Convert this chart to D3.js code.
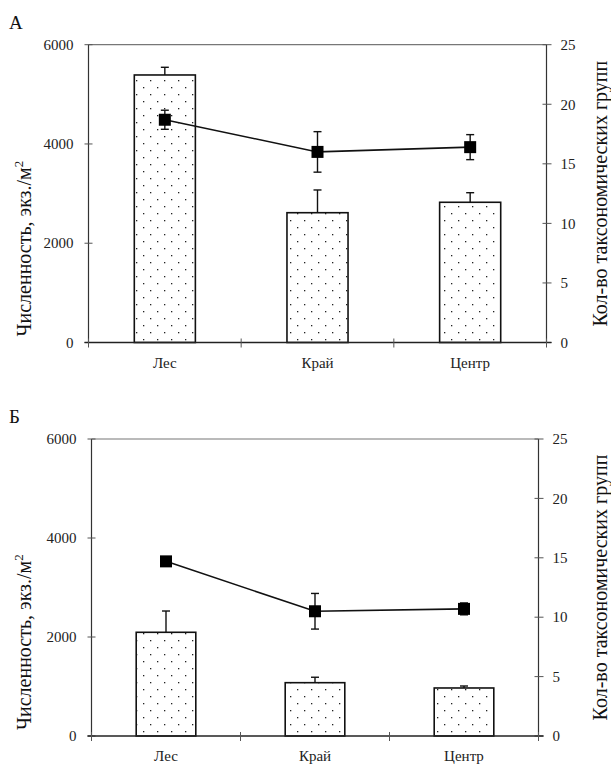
<!DOCTYPE html>
<html lang="ru">
<head>
<meta charset="UTF-8">
<title>Численность и таксономические группы</title>
<script src="https://d3js.org/d3.v7.min.js"></script>
<style>
    body { margin: 0; background: #fff; }
    svg { display: block; }
    text { font-family: "Times New Roman", "Liberation Serif", "DejaVu Serif", serif; }
    .tick-label { font-size: 15px; fill: #222; }
    .axis-title { font-size: 20px; fill: #111; }
    .panel-letter { font-size: 19px; fill: #111; }
</style>
</head>
<body>
<svg width="611" height="769"></svg>
<script>
// categories and values
const categories = ["Лес", "Край", "Центр"];
const leftTicks = [0, 2000, 4000, 6000];
const rightTicks = [0, 5, 10, 15, 20, 25];

// panel А
const densityA = [5390, 2615, 2825];
const densityErrA = [155, 458, 193];
const taxaA = [18.7, 16.0, 16.4];
const taxaErrA = [0.8, 1.7, 1.05];

// panel Б
const densityB = [2095, 1077, 970];
const densityErrB = [430, 110, 40];
const taxaB = [14.7, 10.5, 10.7];
const taxaErrB = [0.2, 1.5, 0.5];

const serif = "'Liberation Serif', 'Times New Roman', 'DejaVu Serif', serif";
const svg = d3.select("svg").attr("font-family", serif);

// dotted fill for the bars
const pat = svg.append("defs").append("pattern")
    .attr("id", "dots")
    .attr("patternUnits", "userSpaceOnUse")
    .attr("width", 14).attr("height", 14);
pat.append("rect").attr("width", 14).attr("height", 14).attr("fill", "#fff");
pat.append("rect").attr("x", 3).attr("y", 3).attr("width", 1.3).attr("height", 1.3).attr("fill", "#222");
pat.append("rect").attr("x", 10).attr("y", 10).attr("width", 1.3).attr("height", 1.3).attr("fill", "#222");

function drawPanel(p) {
    const g = svg.append("g").attr("font-family", serif);

    const x = d3.scaleBand().domain(categories).range([p.left, p.right]);
    const yL = d3.scaleLinear().domain([0, 6000]).range([p.bottom, p.top]);
    const yR = d3.scaleLinear().domain([0, 25]).range([p.bottom, p.top]);
    const barW = x.bandwidth() * 0.4;

    // frame: top line a bit lighter
    g.append("line")
        .attr("x1", p.left).attr("x2", p.right)
        .attr("y1", p.top).attr("y2", p.top)
        .attr("stroke", "#777").attr("stroke-width", 1.2);

    // left axis
    g.append("line")
        .attr("x1", p.left).attr("x2", p.left)
        .attr("y1", p.top).attr("y2", p.bottom)
        .attr("stroke", "#333").attr("stroke-width", 1.2);
    g.selectAll(".lt").data(leftTicks).enter().append("line")
        .attr("x1", p.left - 4).attr("x2", p.left + 4)
        .attr("y1", d => yL(d)).attr("y2", d => yL(d))
        .attr("stroke", "#555").attr("stroke-width", 1);
    g.selectAll(".ll").data(leftTicks).enter().append("text")
        .attr("class", "tick-label")
        .attr("font-family", serif)
        .attr("x", p.left - 15).attr("y", d => yL(d))
        .attr("dy", "0.35em")
        .attr("text-anchor", "end")
        .text(d => d);

    // right axis
    g.append("line")
        .attr("x1", p.right).attr("x2", p.right)
        .attr("y1", p.top).attr("y2", p.bottom)
        .attr("stroke", "#333").attr("stroke-width", 1.2);
    g.selectAll(".rt").data(rightTicks).enter().append("line")
        .attr("x1", p.right - 4).attr("x2", p.right + 5)
        .attr("y1", d => yR(d)).attr("y2", d => yR(d))
        .attr("stroke", "#555").attr("stroke-width", 1);
    g.selectAll(".rl").data(rightTicks).enter().append("text")
        .attr("class", "tick-label")
        .attr("font-family", serif)
        .attr("x", p.right + 14).attr("y", d => yR(d))
        .attr("dy", "0.35em")
        .text(d => d);

    // bars
    g.selectAll(".bar").data(p.density).enter().append("rect")
        .attr("x", (d, i) => x(categories[i]) + (x.bandwidth() - barW) / 2)
        .attr("y", d => yL(d))
        .attr("width", barW)
        .attr("height", d => p.bottom - yL(d))
        .attr("fill", "url(#dots)")
        .attr("stroke", "#111").attr("stroke-width", 1.6);

    // bar error bars (upward only)
    p.density.forEach((d, i) => {
        const cx = x(categories[i]) + x.bandwidth() / 2;
        const yt = yL(d + p.densityErr[i]);
        g.append("line").attr("x1", cx).attr("x2", cx)
            .attr("y1", yL(d)).attr("y2", yt)
            .attr("stroke", "#111").attr("stroke-width", 1.4);
        g.append("line").attr("x1", cx - 4).attr("x2", cx + 4)
            .attr("y1", yt).attr("y2", yt)
            .attr("stroke", "#111").attr("stroke-width", 1.4);
    });

    // baseline with category ticks
    g.append("line")
        .attr("x1", p.left - 4).attr("x2", p.right + 5)
        .attr("y1", p.bottom).attr("y2", p.bottom)
        .attr("stroke", "#222").attr("stroke-width", 1.5);
    const bounds = [p.left, ...categories.slice(1).map(c => x(c)), p.right];
    g.selectAll(".xt").data(bounds).enter().append("line")
        .attr("x1", d => d).attr("x2", d => d)
        .attr("y1", p.bottom - 4).attr("y2", p.bottom + 5)
        .attr("stroke", "#555").attr("stroke-width", 1);
    g.selectAll(".xl").data(categories).enter().append("text")
        .attr("class", "tick-label")
        .attr("font-family", serif)
        .attr("x", d => x(d) + x.bandwidth() / 2)
        .attr("y", p.bottom + 25)
        .attr("text-anchor", "middle")
        .text(d => d);

    // taxa line with error bars and square markers
    const pts = p.taxa.map((v, i) => [x(categories[i]) + x.bandwidth() / 2, yR(v)]);
    g.append("path")
        .attr("d", d3.line()(pts))
        .attr("fill", "none").attr("stroke", "#111").attr("stroke-width", 1.6);
    p.taxa.forEach((v, i) => {
        const cx = pts[i][0];
        const y1 = yR(v + p.taxaErr[i]), y2 = yR(v - p.taxaErr[i]);
        g.append("line").attr("x1", cx).attr("x2", cx)
            .attr("y1", y1).attr("y2", y2)
            .attr("stroke", "#111").attr("stroke-width", 1.4);
        [y1, y2].forEach(yy => {
            g.append("line").attr("x1", cx - 4).attr("x2", cx + 4)
                .attr("y1", yy).attr("y2", yy)
                .attr("stroke", "#111").attr("stroke-width", 1.4);
        });
        g.append("rect")
            .attr("x", cx - 6).attr("y", pts[i][1] - 6)
            .attr("width", 12).attr("height", 12)
            .attr("fill", "#000");
    });

    // axis titles
    const lt = g.append("text")
        .attr("class", "axis-title")
        .attr("font-family", serif)
        .attr("transform", `translate(31,${p.bottom - 6}) rotate(-90)`)
        .attr("text-anchor", "start");
    lt.append("tspan").text("Численность, экз./м");
    lt.append("tspan").attr("dy", -8).attr("font-size", 13).text("2");

    g.append("text")
        .attr("class", "axis-title")
        .attr("font-family", serif)
        .attr("transform", `translate(607,${(p.top + p.bottom) / 2}) rotate(-90)`)
        .attr("text-anchor", "middle")
        .text("Кол-во таксономических групп");

    g.append("text")
        .attr("class", "panel-letter")
        .attr("font-family", serif)
        .attr("x", 9).attr("y", p.top - 16)
        .text(p.letter);
}

drawPanel({
    letter: "А", left: 88.5, right: 546.5, top: 44.7, bottom: 342.5,
    density: densityA, densityErr: densityErrA, taxa: taxaA, taxaErr: taxaErrA
});
drawPanel({
    letter: "Б", left: 91.5, right: 538.5, top: 439, bottom: 736,
    density: densityB, densityErr: densityErrB, taxa: taxaB, taxaErr: taxaErrB
});
</script>
</body>
</html>
